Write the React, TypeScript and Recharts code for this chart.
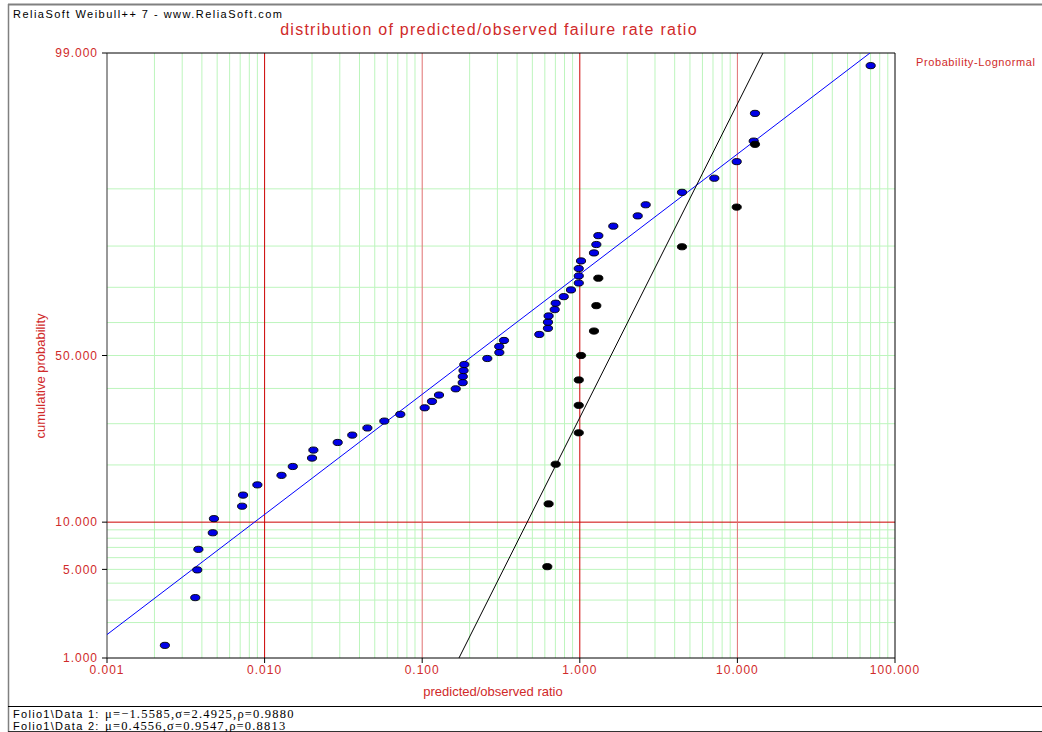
import React from "react";
import { ComposedChart, Scatter, XAxis, YAxis, ReferenceLine } from "recharts";

// Data 1 (blue): predicted/observed ratio and cumulative probability (%)
const blueRatio = [
  0.00233, 0.00363, 0.00374, 0.0038, 0.00469, 0.00477, 0.0072, 0.0073, 0.009, 0.0128,
  0.0151, 0.02, 0.0204, 0.0291, 0.036, 0.0449, 0.0575, 0.0726, 0.1037, 0.1154,
  0.1278, 0.1632, 0.1807, 0.181, 0.183, 0.185, 0.2588, 0.3085, 0.308, 0.3304,
  0.5534, 0.628, 0.628, 0.634, 0.693, 0.703, 0.791, 0.879, 0.985, 0.985,
  0.985, 1.018, 1.23, 1.273, 1.311, 1.632, 2.33, 2.619, 4.451, 7.137,
  9.9, 12.69, 12.93, 70.1,
];
const blueProb = [
  1.29, 3.13, 4.96, 6.8, 8.64, 10.48, 12.32, 14.15, 15.99, 17.83,
  19.67, 21.51, 23.35, 25.18, 27.02, 28.86, 30.7, 32.54, 34.38, 36.21,
  38.05, 39.89, 41.73, 43.57, 45.4, 47.24, 49.08, 50.92, 52.76, 54.6,
  56.43, 58.27, 60.11, 61.95, 63.79, 65.62, 67.46, 69.3, 71.14, 72.98,
  74.82, 76.65, 78.49, 80.33, 82.17, 84.01, 85.85, 87.68, 89.52, 91.36,
  93.2, 95.04, 96.87, 98.71,
];

// Data 2 (black)
const blackRatio = [0.622, 0.634, 0.703, 0.985, 0.985, 0.985, 1.018, 1.23, 1.273, 1.311, 4.45, 9.9, 12.93];
const blackProb = [5.22, 12.69, 20.15, 27.61, 35.07, 42.54, 50.0, 57.46, 64.93, 72.39, 79.85, 87.31, 94.78];

// lognormal fits
const fit1 = { mu: -1.5585, sigma: 2.4925, rho: 0.988 };
const fit2 = { mu: 0.4556, sigma: 0.9547, rho: 0.8813 };

const xTicks = [0.001, 0.01, 0.1, 1, 10, 100];
const xMinor = [2, 3, 4, 5, 6, 7, 8, 9];
const yTicks = [1, 5, 10, 50, 99];
const yGrid = [2, 3, 4, 5, 6, 7, 8, 9, 20, 30, 40, 50, 60, 70, 80, 90];

const RED = "#d02a2a";
const GREEN = "#bdf5bd";
const SANS = "'Liberation Sans', Arial, sans-serif";
const SERIF = "'Liberation Serif', 'Times New Roman', serif";

// inverse normal cdf (Acklam)
function probit(p: number): number {
  const a = [-39.69683028665376, 220.9460984245205, -275.9285104469687, 138.357751867269, -30.66479806614716, 2.506628277459239];
  const b = [-54.47609879822406, 161.5858368580409, -155.6989798598866, 66.80131188771972, -13.28068155288572];
  const c = [-0.007784894002430293, -0.3223964580411365, -2.400758277161838, -2.549671348283477, 4.374664141464968, 2.938163982698783];
  const d = [0.007784695709041462, 0.3224671290700398, 2.445134137142996, 3.754408661907416];
  const lo = 0.02425;
  if (p < lo) {
    const q = Math.sqrt(-2 * Math.log(p));
    return (((((c[0] * q + c[1]) * q + c[2]) * q + c[3]) * q + c[4]) * q + c[5]) / ((((d[0] * q + d[1]) * q + d[2]) * q + d[3]) * q + 1);
  }
  if (p > 1 - lo) {
    const q = Math.sqrt(-2 * Math.log(1 - p));
    return -(((((c[0] * q + c[1]) * q + c[2]) * q + c[3]) * q + c[4]) * q + c[5]) / ((((d[0] * q + d[1]) * q + d[2]) * q + d[3]) * q + 1);
  }
  const q = p - 0.5;
  const r = q * q;
  return ((((((a[0] * r + a[1]) * r + a[2]) * r + a[3]) * r + a[4]) * r + a[5]) * q) / (((((b[0] * r + b[1]) * r + b[2]) * r + b[3]) * r + b[4]) * r + 1);
}

const X_MIN = xTicks[0];
const X_MAX = xTicks[xTicks.length - 1];
const Z_MIN = probit(yTicks[0] / 100);
const Z_MAX = probit(yTicks[yTicks.length - 1] / 100);

const toPoints = (xs: number[], ps: number[]) => xs.map((x, i) => ({ x, z: probit(ps[i] / 100) }));

function fitLine(f: { mu: number; sigma: number }) {
  const z = (x: number) => (Math.log(x) - f.mu) / f.sigma;
  const x0 = Math.max(X_MIN, Math.exp(f.mu + f.sigma * Z_MIN));
  const x1 = Math.min(X_MAX, Math.exp(f.mu + f.sigma * Z_MAX));
  return [{ x: x0, z: z(x0) }, { x: x1, z: z(x1) }];
}

const blueData = toPoints(blueRatio, blueProb);
const blackData = toPoints(blackRatio, blackProb);

const decades = xTicks.slice(0, -1);
const minorX = decades.flatMap((d) => xMinor.map((m) => d * m));

const Dot = (fill: string) => (props: any) => (
  <ellipse cx={props.cx} cy={props.cy} rx={4.6} ry={3.1} fill={fill} stroke="#000" strokeWidth={0.9} />
);

const fmtY = (v: number) => {
  let best = yTicks[0];
  yTicks.forEach((p) => {
    if (Math.abs(probit(p / 100) - v) < Math.abs(probit(best / 100) - v)) best = p;
  });
  return best.toFixed(3);
};

const tickStyle = { fill: RED, fontSize: 12, fontFamily: SANS, letterSpacing: 1 };

const fitText = (f: { mu: number; sigma: number; rho: number }) =>
  `μ=${f.mu < 0 ? "−" : ""}${Math.abs(f.mu).toFixed(4)},σ=${f.sigma.toFixed(4)},ρ=${f.rho.toFixed(4)}`;

export default function App() {
  return (
    <div style={{ position: "absolute", left: 0, top: 0, width: 1042, height: 732, overflow: "hidden", background: "#fff" }}>
      <ComposedChart width={1042} height={732} margin={{ top: 53, right: 147, bottom: 34, left: 47 }}>
        <XAxis
          dataKey="x"
          type="number"
          scale="log"
          domain={[X_MIN, X_MAX]}
          ticks={xTicks}
          allowDataOverflow
          tickFormatter={(v: number) => v.toFixed(3)}
          tick={tickStyle}
          tickSize={5}
          tickMargin={2}
          height={40}
          axisLine={{ stroke: "#000" }}
          tickLine={{ stroke: "#000" }}
        />
        <YAxis
          dataKey="z"
          type="number"
          domain={[Z_MIN, Z_MAX]}
          ticks={yTicks.map((p) => probit(p / 100))}
          allowDataOverflow
          tickFormatter={fmtY}
          tick={tickStyle}
          tickSize={5}
          tickMargin={4}
          width={60}
          axisLine={{ stroke: "#333" }}
          tickLine={{ stroke: "#000" }}
        />
        {minorX.map((v) => (
          <ReferenceLine key={"vx" + v} x={v} stroke={GREEN} strokeWidth={1} />
        ))}
        {yGrid.map((p) => (
          <ReferenceLine key={"hy" + p} y={probit(p / 100)} stroke={GREEN} strokeWidth={1} />
        ))}
        <ReferenceLine y={probit(0.1)} stroke="#cc0000" strokeWidth={1} />
        {decades.slice(1).map((v, i) => (
          <ReferenceLine key={"dx" + v} x={v} stroke={i % 2 === 0 ? "#cc0000" : "#e07070"} strokeWidth={1} />
        ))}
        <ReferenceLine x={X_MAX} stroke="#000" strokeWidth={1} />
        <ReferenceLine y={Z_MAX} stroke="#000" strokeWidth={1} />
        <Scatter data={fitLine(fit1)} line={{ stroke: "#0000ff", strokeWidth: 1 }} shape={() => <g />} isAnimationActive={false} />
        <Scatter data={fitLine(fit2)} line={{ stroke: "#000", strokeWidth: 1 }} shape={() => <g />} isAnimationActive={false} />
        <Scatter data={blueData} shape={Dot("#0000e6")} isAnimationActive={false} />
        <Scatter data={blackData} shape={Dot("#000")} isAnimationActive={false} />
      </ComposedChart>
      <svg width={1042} height={732} style={{ position: "absolute", left: 0, top: 0, pointerEvents: "none" }}>
        <line x1={8} y1={4.5} x2={1042} y2={4.5} stroke="#808080" strokeWidth={2} />
        <line x1={8.5} y1={4} x2={8.5} y2={732} stroke="#808080" strokeWidth={1.5} />
        <line x1={8} y1={706.5} x2={1042} y2={706.5} stroke="#000" strokeWidth={1} />
        <line x1={8} y1={731.5} x2={1042} y2={731.5} stroke="#333" strokeWidth={1} />
        <text x={13} y={17.5} fontSize={11} fontFamily={SANS} letterSpacing={1.47} fill="#000">
          ReliaSoft Weibull++ 7 - www.ReliaSoft.com
        </text>
        <text x={489} y={34.5} fontSize={16} fontFamily={SANS} letterSpacing={1.25} fill={RED} textAnchor="middle">
          distribution of predicted/observed failure rate ratio
        </text>
        <text x={916} y={66} fontSize={11} fontFamily={SANS} letterSpacing={0.6} fill={RED}>
          Probability-Lognormal
        </text>
        <text x={45} y={376} fontSize={13} fontFamily={SANS} fill={RED} textAnchor="middle" transform="rotate(-90 45 376)">
          cumulative probability
        </text>
        <text x={493} y={696} fontSize={13} fontFamily={SANS} fill={RED} textAnchor="middle">
          predicted/observed ratio
        </text>
        <text y={717.5} fill="#000">
          <tspan x={13} fontSize={11} fontFamily={SANS} letterSpacing={1.3}>Folio1\Data 1: </tspan>
          <tspan x={105} fontSize={12.5} fontFamily={SERIF} letterSpacing={1.2}>{fitText(fit1)}</tspan>
        </text>
        <text y={730} fill="#000">
          <tspan x={13} fontSize={11} fontFamily={SANS} letterSpacing={1.3}>Folio1\Data 2: </tspan>
          <tspan x={105} fontSize={12.5} fontFamily={SERIF} letterSpacing={1.2}>{fitText(fit2)}</tspan>
        </text>
      </svg>
    </div>
  );
}
